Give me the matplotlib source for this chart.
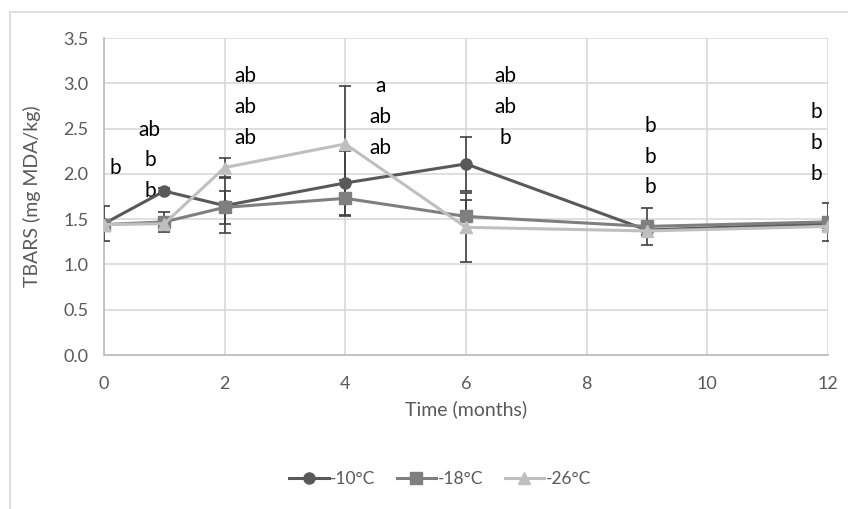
import matplotlib
matplotlib.use("Agg")
import matplotlib.pyplot as plt
from matplotlib.patches import Rectangle

plt.rcParams['font.family'] = ['Lato', 'DejaVu Sans']

# months of storage
months = [0, 1, 2, 4, 6, 9, 12]

# TBARS means (mg MDA/kg) and SD
t10 = [1.45, 1.81, 1.65, 1.90, 2.11, 1.38, 1.45]
t10_err = [0.19, 0.03, 0.30, 0.35, 0.30, 0.05, 0.05]
t18 = [1.44, 1.47, 1.63, 1.73, 1.53, 1.42, 1.47]
t18_err = [0.05, 0.11, 0.18, 0.20, 0.18, 0.20, 0.21]
t26 = [1.44, 1.45, 2.07, 2.33, 1.41, 1.37, 1.42]
t26_err = [0.05, 0.07, 0.10, 0.64, 0.38, 0.05, 0.05]

# significance letters beside each time point (top to bottom)
letter_x = [0.18, 0.76, 2.34, 4.58, 6.65, 9.05, 11.8]
letters = [["b"], ["ab", "b", "b"], ["ab", "ab", "ab"], ["a", "ab", "ab"],
           ["ab", "ab", "b"], ["b", "b", "b"], ["b", "b", "b"]]
letter_top = [2.06, 2.49, 3.08, 2.97, 3.08, 2.53, 2.68]

txt = '#595959'
fig = plt.figure(figsize=(8.48, 5.09), dpi=100)
ax = fig.add_axes([0.1226, 0.3025, 0.8538, 0.6228])

series = [("-10°C", t10, t10_err, '#595959', 'o'),
          ("-18°C", t18, t18_err, '#7f7f7f', 's'),
          ("-26°C", t26, t26_err, '#bfbfbf', '^')]
handles = []
for name, vals, err, col, mk in series:
    c = ax.errorbar(months, vals, yerr=err, color=col, marker=mk, markersize=8,
                    linewidth=2.2, ecolor='#404040', elinewidth=1.2, capsize=4,
                    capthick=1.2, label=name, zorder=3)
    handles.append(c[0])

for x, labs, top in zip(letter_x, letters, letter_top):
    for i, s in enumerate(labs):
        ax.text(x, top - i * 0.34, s, fontsize=15, color='black',
                ha='center', va='center')

ax.set_xlim(0, 12)
ax.set_ylim(0, 3.5)
ax.set_xticks(range(0, 13, 2))
ax.set_yticks([i * 0.5 for i in range(8)])
ax.set_yticklabels([f"{i * 0.5:.1f}" for i in range(8)])
ax.grid(True, color='#d9d9d9', linewidth=1.2)
ax.set_axisbelow(True)
for s in ['top', 'right']:
    ax.spines[s].set_visible(False)
for s in ['left', 'bottom']:
    ax.spines[s].set_color('#bfbfbf')
    ax.spines[s].set_linewidth(1.3)
ax.tick_params(axis='x', length=0, labelsize=13, colors=txt, pad=15)
ax.tick_params(axis='y', length=0, labelsize=13, colors=txt, pad=11)
ax.set_xlabel("Time (months)", fontsize=14, color=txt, labelpad=6)
ax.set_ylabel("TBARS (mg MDA/kg)", fontsize=14, color=txt, labelpad=16)

leg = fig.legend(handles=handles, labels=[s[0] for s in series],
                 loc='center', bbox_to_anchor=(0.519, 0.059), ncol=3,
                 frameon=False, fontsize=12.5, handlelength=2.3,
                 handletextpad=0.1, columnspacing=1.2)
for t in leg.get_texts():
    t.set_color(txt)

fig.patches.append(Rectangle((10 / 848, -0.1), 1.2, 1 - 12 / 509 + 0.1,
                             transform=fig.transFigure, fill=False,
                             edgecolor='#d9d9d9', linewidth=1.2))

fig.savefig("out.png", dpi=100)
